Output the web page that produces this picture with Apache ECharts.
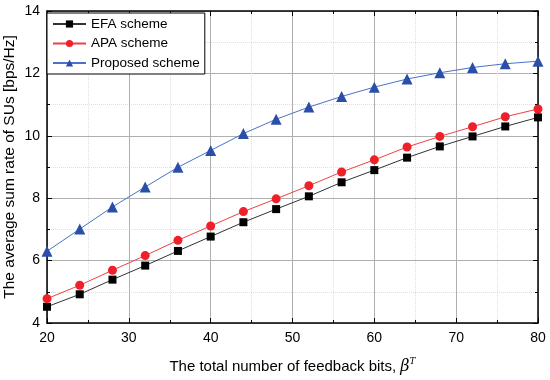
<!DOCTYPE html>
<html><head><meta charset="utf-8">
<script src="https://cdn.jsdelivr.net/npm/echarts@6/dist/echarts.min.js"></script>
<style>html,body{margin:0;padding:0;background:#fff}#c{width:550px;height:380px}</style>
</head><body><div id="c"></div>
<script>
const bits = [20,24,28,32,36,40,44,48,52,56,60,64,68,72,76,80];
const efa = [4.52,4.92,5.39,5.84,6.31,6.77,7.23,7.65,8.06,8.51,8.90,9.30,9.66,9.98,10.30,10.59];
const apa = [4.78,5.21,5.69,6.16,6.65,7.11,7.57,7.98,8.40,8.84,9.23,9.64,9.98,10.29,10.61,10.86];
const proposed = [6.30,7.01,7.72,8.36,8.99,9.53,10.07,10.53,10.92,11.26,11.56,11.82,12.02,12.19,12.31,12.39];
const seriesNames = ['EFA scheme','APA scheme','Proposed scheme'];

const font = 'Liberation Sans, Arial, sans-serif';
const pair = arr => bits.map((b,i)=>[b,arr[i]]);
const chart = echarts.init(document.getElementById('c'));
const baseX = {
  type:'value', min:20, max:80, interval:10,
  axisLine:{show:true, onZero:false, lineStyle:{color:'#000', width:1.5}},
  axisTick:{show:true, inside:true, length:5, lineStyle:{color:'#000', width:1}},
  minorTick:{show:true, splitNumber:2, length:3, lineStyle:{color:'#000'}},
};
const baseY = {
  type:'value', min:4, max:14, interval:2,
  axisLine:{show:true, onZero:false, lineStyle:{color:'#000', width:1.5}},
  axisTick:{show:true, inside:true, length:5, lineStyle:{color:'#000', width:1}},
  minorTick:{show:true, splitNumber:2, length:3, lineStyle:{color:'#000'}},
};
chart.setOption({
  animation:false,
  backgroundColor:'#fff',
  grid:{left:47, right:12, top:11, bottom:57, containLabel:false, outerBoundsMode:'none'},
  legend:{
    orient:'vertical', left:47, top:13, data:seriesNames,
    itemWidth:33, itemHeight:9, itemGap:5.5,
    padding:[4,5,4,5],
    backgroundColor:'#fff', borderColor:'#000', borderWidth:1,
    textStyle:{fontFamily:font, fontSize:13.5, color:'#000', lineHeight:14}
  },
  xAxis:[
    Object.assign({}, baseX, {
      position:'bottom',
      name:'The total number of feedback bits, {b|β}{s|T}',
      nameLocation:'middle', nameGap:34, nameMoveOverlap:false,
      nameTextStyle:{fontFamily:font, fontSize:15, color:'#000',
        rich:{b:{fontFamily:'DejaVu Serif, serif', fontStyle:'italic', fontSize:16, color:'#000'},
              s:{fontFamily:'DejaVu Serif, serif', fontStyle:'italic', fontSize:9, color:'#000', padding:[0,0,10,0]}}},
      axisLabel:{fontFamily:font, fontSize:14, color:'#000', margin:8},
      splitLine:{show:true, lineStyle:{color:'#b0b0b0', width:1}},
      minorSplitLine:{show:true, lineStyle:{color:'#e0e0e0', width:1, type:'dotted'}}
    }),
    Object.assign({}, baseX, {position:'top', axisLabel:{show:false}, splitLine:{show:false}})
  ],
  yAxis:[
    Object.assign({}, baseY, {
      position:'left',
      name:'The average sum rate of SUs [bps/Hz]',
      nameLocation:'middle', nameGap:29, nameMoveOverlap:false,
      nameTextStyle:{fontFamily:font, fontSize:15.5, color:'#000'},
      axisLabel:{fontFamily:font, fontSize:14, color:'#000', margin:7},
      splitLine:{show:true, lineStyle:{color:'#b0b0b0', width:1}},
      minorSplitLine:{show:true, lineStyle:{color:'#e0e0e0', width:1, type:'dotted'}}
    }),
    Object.assign({}, baseY, {position:'right', axisLabel:{show:false}, splitLine:{show:false}})
  ],
  series:[
    {name:seriesNames[0], type:'line', data:pair(efa), symbol:'rect', symbolSize:8,
     itemStyle:{color:'#000'}, lineStyle:{color:'#333', width:1}},
    {name:seriesNames[1], type:'line', data:pair(apa), symbol:'circle', symbolSize:9,
     itemStyle:{color:'#f0202a'}, lineStyle:{color:'#f04040', width:1}},
    {name:seriesNames[2], type:'line', data:pair(proposed), symbol:'triangle', symbolSize:11,
     itemStyle:{color:'#2b4fa8'}, lineStyle:{color:'#4a72c8', width:1}}
  ]
});
</script></body></html>
